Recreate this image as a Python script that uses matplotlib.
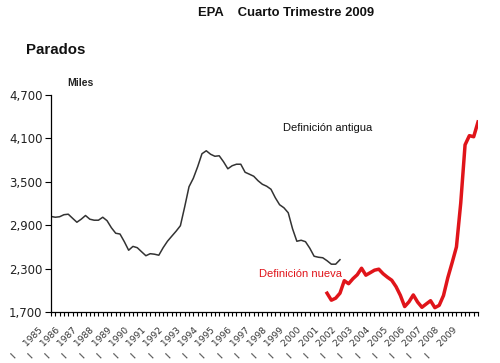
import numpy as np
import matplotlib
matplotlib.use("Agg")
import matplotlib.pyplot as plt
import matplotlib.transforms as mtransforms

# Parados (miles), trimestral 1985-I .. 2009-IV
anyos = list(range(1985, 2010))
antigua = [3021, 3010, 3017, 3045, 3052, 2996, 2941, 2983, 3034, 2983, 2969, 2969,
           3010, 2962, 2865, 2789, 2778, 2672, 2554, 2607, 2589, 2533, 2478, 2506,
           2499, 2485, 2589, 2678, 2748, 2817, 2893, 3155, 3432, 3549, 3708, 3888,
           3929, 3881, 3853, 3860, 3777, 3680, 3722, 3743, 3743, 3632, 3605, 3577,
           3515, 3466, 3439, 3397, 3280, 3183, 3141, 3072, 2851, 2678, 2692, 2672,
           2582, 2471, 2457, 2450, 2409, 2361, 2361, 2423]
nueva = [1960, 1863, 1891, 1960, 2133, 2091, 2160, 2215, 2305, 2209, 2243, 2278,
         2292, 2229, 2181, 2139, 2050, 1930, 1775, 1841, 1936, 1837, 1765, 1811,
         1856, 1760, 1792, 1928, 2174, 2382, 2599, 3208, 4011, 4138, 4123, 4327]
inicio_nueva = 64   # 2001-I
yticks = [1700, 2300, 2900, 3500, 4100, 4700]

W, H = 500, 363
fig = plt.figure(figsize=(W/100, H/100), dpi=100)
ax = fig.add_axes([51/W, 1-312/H, 427/W, 217/H])

x_ant = np.arange(len(antigua))
x_nue = np.arange(inicio_nueva, inicio_nueva + len(nueva))
ax.plot(x_ant, antigua, color='#333333', lw=1.1)
ax.plot(x_nue, nueva, color='#e0141a', lw=2.5, solid_joinstyle='round')

ax.set_xlim(0, 99)
ax.set_ylim(1700, 4700)
ax.spines['top'].set_visible(False)
ax.spines['right'].set_visible(False)
for s in ('left', 'bottom'):
    ax.spines[s].set_color('black')
    ax.spines[s].set_linewidth(0.9)

ax.set_yticks(yticks)
ax.set_yticklabels(['{:,}'.format(v) for v in yticks], fontsize=8.5,
                   color='#222222', family='DejaVu Sans')
ax.tick_params(axis='y', direction='out', length=4.5, width=0.8, pad=1.5)
ax.set_xticks(np.arange(0, 100))
ax.set_xticklabels([])
ax.tick_params(axis='x', direction='out', length=3, width=0.8)

# etiquetas de los años
trans = mtransforms.blended_transform_factory(ax.transData, ax.transAxes)
for k, a in enumerate(anyos):
    ax.text(4*k - 3.0, -0.062, 'I     ' + str(a), transform=trans, rotation=45,
            rotation_mode='anchor', ha='right', va='top', fontsize=6.6,
            color='#333333', clip_on=False)

fig.text(198/W, 1-13.5/H, 'EPA    Cuarto Trimestre 2009', family='Liberation Sans',
         fontweight='bold', fontsize=9.4, ha='left', va='center', color='#111111')
fig.text(26/W, 1-50/H, 'Parados', family='Liberation Sans', fontweight='bold',
         fontsize=10.8, ha='left', va='center', color='#111111')
fig.text(67.5/W, 1-82.5/H, 'Miles', family='Liberation Sans', fontweight='bold',
         fontsize=7.5, ha='left', va='center', color='#222222')
fig.text(283/W, 1-128/H, 'Definición antigua', family='Liberation Sans',
         fontsize=8, ha='left', va='center', color='#111111')
fig.text(259/W, 1-274/H, 'Definición nueva', family='Liberation Sans',
         fontsize=8, ha='left', va='center', color='#e0141a')

fig.savefig('out.png', dpi=100)
